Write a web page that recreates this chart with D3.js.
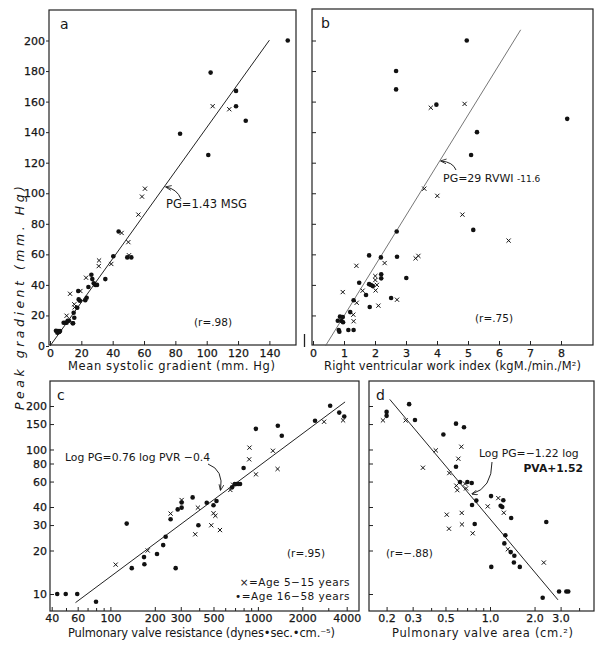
<!DOCTYPE html>
<html>
<head>
<meta charset="utf-8">
<script src="https://cdn.jsdelivr.net/npm/d3@7"></script>
<style>
  body { margin: 0; background: #fff; }
  text { font-family: "DejaVu Sans", sans-serif; fill: #161616; }
</style>
</head>
<body>
<div id="chart"></div>
<script>

// panel a: peak gradient vs mean systolic gradient
const aDots = [[151.7,200],[102.5,179],[118.7,167],[118.7,157],[124.9,147.5],[83,139],[101,125],[43.8,75],[49.3,58],[51.9,58],[40.4,58.8],[35.3,43.8],[26.4,46.6],[27,43.8],[27.9,41],[28.9,40],[30,40],[24.5,38.6],[18,36],[23.4,31.6],[22.5,30],[18.3,30.5],[19.1,29.6],[17.4,25],[15.1,21.8],[15.5,18.5],[14.7,14.9],[8.7,15.2],[9.8,15.2],[11.3,16.5],[12.1,16.5],[10.6,15.2],[14.5,14.9],[3.8,10],[5.1,9.8],[5.9,9.2],[4.7,8.7],[6.4,9.8]];
const aCrosses = [[103.8,157],[114.4,155],[60.6,103],[58.7,97.8],[56.4,86],[45.7,74],[50,68],[50.4,59.4],[31.3,56],[31.1,52.3],[39.1,53.7],[23,44.7],[12.8,34.2],[19.4,36],[15.5,27.3],[15.7,25.3],[10.6,19.8]];
const aFitX = [0, 140];
const aSlope = 1.43;

// panel b: peak gradient vs right ventricular work index
const bDots = [[4.96,200],[2.68,180],[2.68,168],[3.98,158],[8.2,148.7],[5.29,140],[5.1,125],[5.17,76],[2.7,75],[1.81,59.3],[2.19,58],[2.71,58.4],[3.01,44.5],[1.49,41.4],[2.2,47],[2.2,44.3],[1.81,40.5],[1.87,39.9],[1.93,39.2],[1.71,33.4],[1.31,30],[2.52,31.4],[1.83,25.5],[1.2,22.2],[0.8,16.5],[0.87,19.2],[0.92,16.4],[0.97,15.5],[0.83,10.5],[0.85,9.4],[1.14,10.5],[1.31,10.5],[0.96,19]];
const bCrosses = [[3.8,156],[4.89,158.5],[3.59,103],[4.01,98.3],[4.82,86],[6.31,69],[2.31,54.3],[3.31,57.4],[3.4,59],[1.4,52.5],[2.01,45.8],[2.01,43.2],[2.06,40],[1.6,36.2],[2.02,36.4],[0.96,35.3],[1.41,28.3],[2.71,30.3],[2.11,26.4],[1.3,20.5],[1.31,16.2]];
const bFitX = [0.4, 6.7];
const bFitY = [0, 207];

// panel c: peak gradient vs pulmonary valve resistance (log-log)
const cDots = [[43.6,10],[49.8,10],[59.6,10],[79.9,8.84],[129,30.7],[139.6,15.1],[169,18],[170,16.05],[207,18.9],[228,21.8],[237,24.9],[277,15.1],[256,32.9],[286,38.5],[304,43],[304,39.6],[361,46.6],[395,29.9],[450,42.8],[500,41.1],[524,44],[668,54.7],[697,57.7],[718,57.7],[736,57.7],[757,57.7],[800,74.5],[969,139],[1365,146],[1452,124.6],[2440,158],[3090,201],[3560,180],[3850,169]];
const cCrosses = [[108.6,15.97],[179,20],[256,36],[304,44.7],[376,25.9],[392,39.6],[483,29.9],[500,36.2],[515,34.8],[553,27.7],[650,52.5],[680,57],[873,85.5],[877,103],[969,67.3],[1264,98],[1360,73.3],[2810,155.6],[3780,159]];
const cFitX = [58, 3900];
const cCoef = [0.76, -0.4];

// panel d: peak gradient vs pulmonary valve area (log-log)
const dDots = [[0.2,182],[0.2,171],[0.284,206],[0.311,160],[0.484,127],[0.589,151],[0.667,142.5],[0.589,76],[0.627,59.6],[0.703,59.6],[0.752,58.6],[0.808,44.3],[0.756,41.3],[0.788,30.5],[1.016,47.6],[1.18,40.8],[1.21,40],[1.23,44.5],[1.39,33.6],[2.4,31.5],[1.02,15.4],[1.27,25.5],[1.25,22.4],[1.38,19.5],[1.46,18.4],[1.45,16.5],[1.59,15.4],[2.27,9.43],[2.93,10.4],[3.28,10.4],[3.38,10.4]];
const dCrosses = [[0.189,159],[0.269,159],[0.43,98.6],[0.64,104.5],[0.611,86.3],[0.352,74.8],[0.531,68.7],[0.592,56.2],[0.601,52.3],[0.678,58],[0.689,53.8],[0.644,36.4],[0.646,30.3],[0.51,35.4],[0.528,28.3],[0.764,26.3],[0.965,40.4],[1.138,46.1],[1.24,36.5],[1.32,20.4],[2.31,16.5]];
const dFitX = [0.21, 2.88];
const dCoef = [-1.22, 1.52];

// ticks
const aXTicks = [0, 20, 40, 60, 80, 100, 120, 140];
const topYTicks = [0, 20, 40, 60, 80, 100, 120, 140, 160, 180, 200];
const bXTicks = [0, 1, 2, 3, 4, 5, 6, 7, 8];
const cXTicks = [40, 60, 100, 200, 300, 500, 1000, 2000, 4000];
const cXMinor = [50, 70, 80, 90, 400, 600, 700, 800, 900, 3000];
const botYTicks = [10, 20, 30, 40, 60, 80, 100, 150, 200];
const dXTicks = [0.2, 0.3, 0.5, 1.0, 2.0, 3.0];
const dXMinor = [0.4, 0.6, 0.7, 0.8, 0.9, 4.0];

const width = 604, height = 648;

const svg = d3.select("#chart")
    .append("svg")
    .attr("width", width)
    .attr("height", height);

// scales
const xA = d3.scaleLinear().domain([0, 140]).range([50, 269.4]);
const yTop = d3.scaleLinear().domain([0, 200]).range([346, 40.5]);
const xB = d3.scaleLinear().domain([0, 8]).range([313, 561]);
const xC = d3.scaleLog().domain([40, 4000]).range([51.7, 346.7]);
const yBot = d3.scaleLog().domain([10, 200]).range([594, 406]);
const xD = d3.scaleLog().domain([0.2, 3]).range([386.6, 560.6]);

// frames
const frames = [
    {l: 49, t: 10, r: 296, b: 345},
    {l: 312, t: 9, r: 593, b: 345},
    {l: 50, t: 381, r: 359, b: 611},
    {l: 369, t: 381, r: 594, b: 611}
];
svg.append("g").selectAll("rect")
    .data(frames)
    .enter().append("rect")
    .attr("x", d => d.l).attr("y", d => d.t)
    .attr("width", d => d.r - d.l).attr("height", d => d.b - d.t)
    .attr("fill", "none").attr("stroke", "#222").attr("stroke-width", 1.2);

// small stray mark between top panels
svg.append("line").attr("x1", 304.5).attr("x2", 304.5).attr("y1", 334).attr("y2", 347)
    .attr("stroke", "#222").attr("stroke-width", 1.3);

// axes helper
function drawAxis(axis, tx, ty) {
    const g = svg.append("g")
        .attr("transform", `translate(${tx},${ty})`)
        .call(axis);
    g.select(".domain").remove();
    g.selectAll("line").attr("stroke", "#222");
    g.selectAll("text").style("font-size", "11px").attr("fill", "#161616")
        .attr("stroke", "#161616").attr("stroke-width", 0.25);
    return g;
}

// panel a axes
drawAxis(d3.axisBottom(xA).tickValues(aXTicks).tickSizeInner(-4).tickSizeOuter(0).tickPadding(4), 0, 345);
drawAxis(d3.axisLeft(yTop).tickValues(topYTicks).tickSizeInner(3).tickSizeOuter(0).tickPadding(1), 49, 0);

// panel b axes
drawAxis(d3.axisBottom(xB).tickValues(bXTicks).tickSizeInner(-4).tickSizeOuter(0).tickPadding(4), 0, 345);
drawAxis(d3.axisRight(yTop).tickValues(topYTicks.slice(1)).tickSizeInner(4).tickSizeOuter(0).tickFormat(""), 312, 0);

// panel c axes
drawAxis(d3.axisBottom(xC).tickValues(cXTicks).tickSizeInner(-4).tickSizeOuter(0).tickPadding(3).tickFormat(d3.format("d")), 0, 611);
drawAxis(d3.axisBottom(xC).tickValues(cXMinor).tickSizeInner(-3).tickSizeOuter(0).tickFormat(""), 0, 611);
drawAxis(d3.axisLeft(yBot).tickValues(botYTicks).tickSizeInner(-4).tickSizeOuter(0).tickPadding(3).tickFormat(d3.format("d")), 50, 0);

// panel d axes
drawAxis(d3.axisBottom(xD).tickValues(dXTicks).tickSizeInner(-4).tickSizeOuter(0).tickPadding(3).tickFormat(d3.format(".1f")), 0, 611);
drawAxis(d3.axisBottom(xD).tickValues(dXMinor).tickSizeInner(-3).tickSizeOuter(0).tickFormat(""), 0, 611);
drawAxis(d3.axisRight(yBot).tickValues(botYTicks).tickSizeInner(4).tickSizeOuter(0).tickFormat(""), 369, 0);

// fit lines
const lineGen = d3.line();
svg.append("path")
    .attr("d", lineGen(aFitX.map(v => [xA(v), yTop(aSlope * v)])))
    .attr("stroke", "#222").attr("stroke-width", 1).attr("fill", "none");
svg.append("path")
    .attr("d", lineGen(bFitX.map((v, i) => [xB(v), yTop(bFitY[i])])))
    .attr("stroke", "#666").attr("stroke-width", 0.9).attr("fill", "none");
svg.append("path")
    .attr("d", lineGen(cFitX.map(v => [xC(v), yBot(Math.pow(10, cCoef[0] * Math.log10(v) + cCoef[1]))])))
    .attr("stroke", "#222").attr("stroke-width", 1).attr("fill", "none");
svg.append("path")
    .attr("d", lineGen(dFitX.map(v => [xD(v), yBot(Math.pow(10, dCoef[0] * Math.log10(v) + dCoef[1]))])))
    .attr("stroke", "#222").attr("stroke-width", 1).attr("fill", "none");

// markers
function drawDots(data, xs, ys) {
    svg.append("g").selectAll("circle")
        .data(data)
        .enter().append("circle")
        .attr("cx", d => xs(d[0]))
        .attr("cy", d => ys(d[1]))
        .attr("r", 2.3)
        .attr("fill", "#111");
}
function drawCrosses(data, xs, ys) {
    const s = 2.1;
    svg.append("g").selectAll("path")
        .data(data)
        .enter().append("path")
        .attr("d", d => {
            const x = xs(d[0]), y = ys(d[1]);
            return `M${x - s},${y - s}L${x + s},${y + s}M${x - s},${y + s}L${x + s},${y - s}`;
        })
        .attr("stroke", "#111").attr("stroke-width", 1).attr("fill", "none");
}
drawDots(aDots, xA, yTop); drawCrosses(aCrosses, xA, yTop);
drawDots(bDots, xB, yTop); drawCrosses(bCrosses, xB, yTop);
drawDots(cDots, xC, yBot); drawCrosses(cCrosses, xC, yBot);
drawDots(dDots, xD, yBot); drawCrosses(dCrosses, xD, yBot);

// panel letters
[["a", 60, 29], ["b", 321, 28], ["c", 57, 400], ["d", 376, 400]].forEach(p => {
    svg.append("text").attr("x", p[1]).attr("y", p[2]).text(p[0])
        .style("font-size", "14px");
});

// arrowhead
svg.append("defs").append("marker")
    .attr("id", "arrow").attr("viewBox", "0 0 10 10")
    .attr("refX", 9).attr("refY", 5)
    .attr("markerWidth", 6).attr("markerHeight", 6)
    .attr("orient", "auto")
    .append("path").attr("d", "M0,1L10,5L0,9").attr("fill", "none").attr("stroke", "#222").attr("stroke-width", 1.4);

function arrow(d) {
    svg.append("path").attr("d", d)
        .attr("fill", "none").attr("stroke", "#222").attr("stroke-width", 1)
        .attr("marker-end", "url(#arrow)");
}

// annotations
function note(x, y, str, size, anchor) {
    return svg.append("text").attr("x", x).attr("y", y).text(str)
        .style("font-size", size || "11px")
        .attr("text-anchor", anchor || "start");
}

note(166, 208, "PG=1.43 MSG", "11.5px");
arrow("M181,199 Q177,189 166,187");
note(194, 326, "(r=.98)", "10.5px");

const bt = note(443, 182, "PG=29 RVWI ", "11px");
bt.append("tspan").text("-11.6").style("font-size", "9px");
arrow("M456,170 Q453,162 441,161");
note(475, 322, "(r=.75)", "10.5px");

note(65, 461, "Log PG=0.76 log PVR \u22120.4", "10.8px");
arrow("M208,464 Q224,470 220.5,490");
note(287, 557, "(r=.95)", "10.5px");
note(350, 586, "\u00d7=Age  5\u221215  years", "10.5px", "end").style("letter-spacing", "0.5px");
note(350, 600, "\u2022=Age  16\u221258  years", "10.5px", "end").style("letter-spacing", "0.5px");

note(479, 457, "Log PG=\u22121.22 log", "10.8px");
note(583, 472, "PVA+1.52", "10.8px", "end").style("font-weight", "bold");
arrow("M492,462 Q492,488 472,494");
note(386, 557, "(r=\u2212.88)", "10.5px");

// axis titles
function title(x, y, str, len) {
    svg.append("text").attr("x", x).attr("y", y)
        .attr("text-anchor", "middle")
        .attr("textLength", len).attr("lengthAdjust", "spacing")
        .style("font-size", "11.5px")
        .text(str);
}
title(171.5, 370, "Mean systolic gradient (mm. Hg)", 207);
title(452.5, 370, "Right ventricular work index (kgM./min./M\u00b2)", 257);
title(201.5, 637, "Pulmonary valve resistance (dynes\u2022sec.\u2022cm.\u207b\u2075)", 267);
title(482.5, 637, "Pulmonary valve area (cm.\u00b2)", 181);

svg.append("text")
    .attr("transform", "translate(24,298) rotate(-90)")
    .attr("text-anchor", "middle")
    .attr("textLength", 224).attr("lengthAdjust", "spacing")
    .style("font-size", "12.5px")
    .style("font-style", "italic")
    .text("Peak gradient (mm. Hg)");

</script>
</body>
</html>
